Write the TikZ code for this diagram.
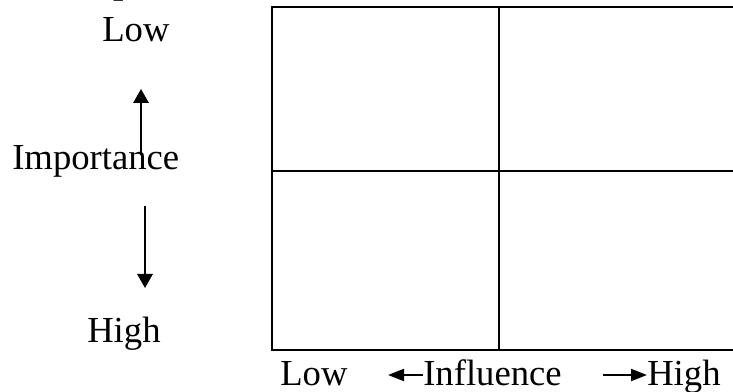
\documentclass[tikz,border=0pt]{standalone}
\usepackage{fontspec}
\setmainfont{Liberation Serif}
\usetikzlibrary{arrows.meta, positioning}

\begin{document}
\begin{tikzpicture}[x=0.75pt, y=-0.75pt,
  lbl/.style={inner sep=0pt, anchor=base west, font=\fontsize{27.5}{33}\selectfont},
  grid/.style={line width=1.6pt},
  vArrow/.style={line width=1.5pt, -{Triangle[length=10.5pt, width=11.5pt]}},
  hArrow/.style={line width=1.5pt, -{Triangle[length=12pt, width=9pt]}}]
  % Frame of the page, the grid runs off on the right
  \useasboundingbox (0,0) rectangle (733,392);
  \clip (0,0) rectangle (733,392);
  % Title, cut off at the top
  \node[lbl, font=\bfseries\fontsize{27.5}{33}\selectfont] (title) at (68,-6) {Importance and Influence of Stakeholders};
  % Grid: 2 x 2 cells
  \draw[grid] (740,7) -- (272,7) -- (272,350) -- (740,350);
  \draw[grid] (499,7) -- (499,350);
  \draw[grid] (272,171) -- (740,171);
  % Vertical axis: importance
  \node[lbl] (vLow) at (102,42) {Low};
  \node[lbl] (imp) at (12,170) {Importance};
  \node[lbl] (vHigh) at (87,343) {High};
  \coordinate (upBot) at (141,155);
  \coordinate (upTop) at (141,89);
  \draw[vArrow] (upBot) -- (upTop);
  \coordinate (dnTop) at (145,206);
  \coordinate (dnBot) at (145,288);
  \draw[vArrow] (dnTop) -- (dnBot);
  % Horizontal axis: influence
  \node[lbl] (hLow) at (280,386) {Low};
  \node[lbl] (infl) at (423,386) {Influence};
  \node[lbl] (hHigh) at (647,386) {High};
  \coordinate (lTip) at (388,375);
  \draw[hArrow] (infl.west |- lTip) -- (lTip);
  \coordinate (rTail) at (603,375);
  \draw[hArrow] (rTail) -- (hHigh.west |- rTail);
\end{tikzpicture}
\end{document}
